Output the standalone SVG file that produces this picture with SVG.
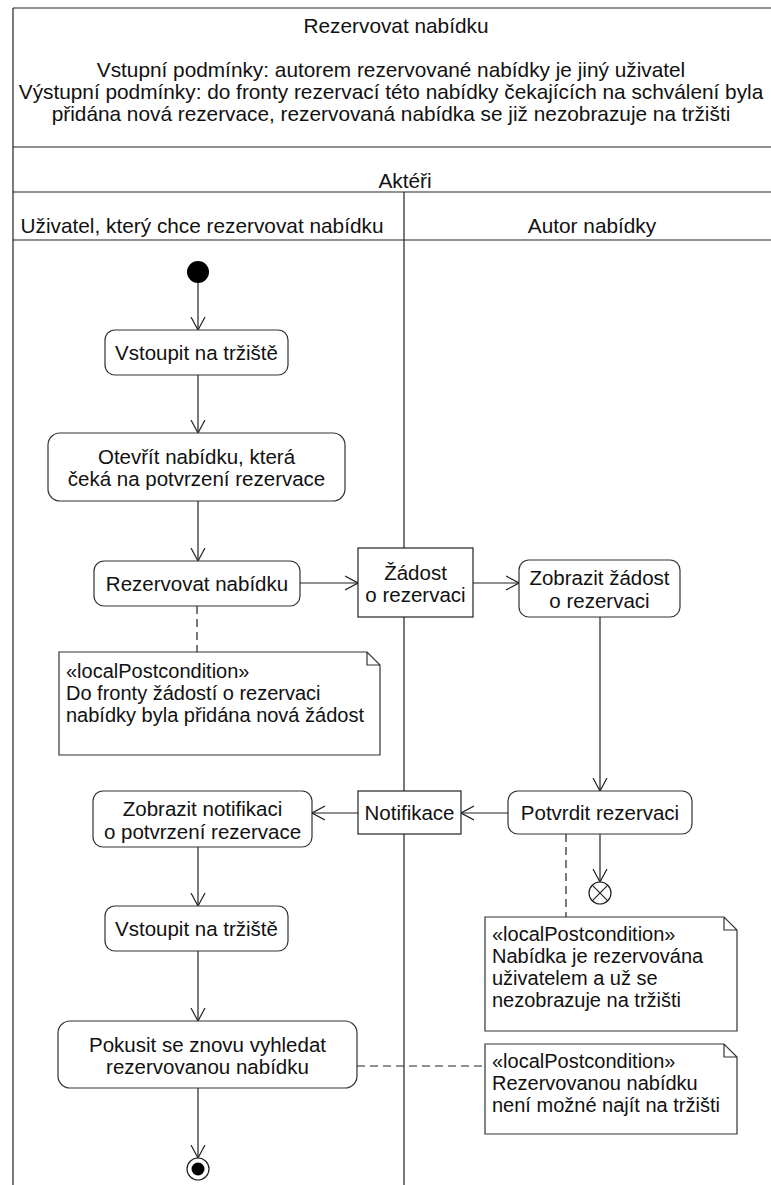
<svg xmlns="http://www.w3.org/2000/svg" width="771" height="1185" viewBox="0 0 771 1185">
  <style>
    text { font-family: "Liberation Sans", Arial, sans-serif; fill: #111; }
    .hdr { font-size: 20.8px; text-anchor: middle; }
    .lbl { font-size: 20.5px; text-anchor: middle; }
    .nt { font-size: 20px; }
    .frame { fill: none; stroke: #222; stroke-width: 1.2; }
    .act { fill: #fff; stroke: #333; stroke-width: 1.2; }
    .obj { fill: #fff; stroke: #222; stroke-width: 1.2; }
    .note { fill: #fff; stroke: #333; stroke-width: 1.2; }
    .flow { fill: none; stroke: #222; stroke-width: 1.2; marker-end: url(#open); }
    .dash { fill: none; stroke: #222; stroke-width: 1.2; stroke-dasharray: 8 5; }
  </style>
  <defs>
    <marker id="open" viewBox="0 0 14 16" refX="13" refY="8" markerWidth="14" markerHeight="16" markerUnits="userSpaceOnUse" orient="auto">
      <path d="M0,1 L13,8 L0,15" fill="none" stroke="#222" stroke-width="1.2"/>
    </marker>
  </defs>
  <rect width="771" height="1185" fill="#fff"/>

  <!-- frame and swimlanes -->
  <g id="frame">
    <path class="frame" d="M13,8 H771 M13,8 V1185 M13,147 H771 M13,192 H771 M13,240 H771 M404,192 V1185"/>
    <text class="hdr" x="396" y="33">Rezervovat nabídku</text>
    <text class="hdr" x="391" y="77">Vstupní podmínky: autorem rezervované nabídky je jiný uživatel</text>
    <text class="hdr" x="391" y="99">Výstupní podmínky: do fronty rezervací této nabídky čekajících na schválení byla</text>
    <text class="hdr" x="391" y="121">přidána nová rezervace, rezervovaná nabídka se již nezobrazuje na tržišti</text>
    <text class="hdr" x="405" y="188">Aktéři</text>
    <text class="hdr" x="202" y="233">Uživatel, který chce rezervovat nabídku</text>
    <text class="hdr" x="592" y="233">Autor nabídky</text>
  </g>

  <!-- connectors -->
  <g id="connectors">
    <path class="flow" d="M198,283 V330"/>
    <path class="flow" d="M198,375 V433"/>
    <path class="flow" d="M198,501 V561"/>
    <path class="flow" d="M300,583 H358"/>
    <path class="flow" d="M473,583 H519"/>
    <path class="flow" d="M600,617 V791"/>
    <path class="flow" d="M508,813 H461"/>
    <path class="flow" d="M358,813 H312"/>
    <path class="flow" d="M198,847 V906"/>
    <path class="flow" d="M198,951 V1021"/>
    <path class="flow" d="M198,1088 V1158"/>
    <path class="flow" d="M600,834 V882"/>
    <path class="dash" d="M197,606 V652"/>
    <path class="dash" d="M566,834 V917"/>
    <path class="dash" d="M357,1066 H485"/>
  </g>

  <g id="start">
    <circle cx="198" cy="272" r="11" fill="#000"/>
  </g>

  <g id="vstoupit1">
    <rect class="act" x="105" y="330" width="183" height="45" rx="10"/>
    <text class="lbl" x="196.5" y="360">Vstoupit na tržiště</text>
  </g>

  <g id="otevrit">
    <rect class="act" x="48" y="433" width="297" height="68" rx="12"/>
    <text class="lbl" x="196.5" y="464">Otevřít nabídku, která</text>
    <text class="lbl" x="196.5" y="486">čeká na potvrzení rezervace</text>
  </g>

  <g id="rezervovat">
    <rect class="act" x="94" y="561" width="206" height="45" rx="10"/>
    <text class="lbl" x="197" y="591">Rezervovat nabídku</text>
  </g>

  <g id="zadost">
    <rect class="obj" x="358" y="548" width="115" height="69"/>
    <text class="lbl" x="415.5" y="580">Žádost</text>
    <text class="lbl" x="415.5" y="602">o rezervaci</text>
  </g>

  <g id="zobrazit-zadost">
    <rect class="act" x="519" y="560" width="161" height="57" rx="10"/>
    <text class="lbl" x="599.5" y="585">Zobrazit žádost</text>
    <text class="lbl" x="599.5" y="608">o rezervaci</text>
  </g>

  <g id="note-fronta">
    <path class="note" d="M59,652 H367 L380,665 V755 H59 Z M367,652 V665 H380"/>
    <text class="nt" x="66" y="678">«localPostcondition»</text>
    <text class="nt" x="66" y="700">Do fronty žádostí o rezervaci</text>
    <text class="nt" x="66" y="722">nabídky byla přidána nová žádost</text>
  </g>

  <g id="potvrdit">
    <rect class="act" x="508" y="791" width="184" height="43" rx="10"/>
    <text class="lbl" x="600" y="820">Potvrdit rezervaci</text>
  </g>

  <g id="notifikace">
    <rect class="obj" x="358" y="791" width="103" height="43"/>
    <text class="lbl" x="409.5" y="820">Notifikace</text>
  </g>

  <g id="zobrazit-notifikaci">
    <rect class="act" x="93" y="791" width="219" height="56" rx="10"/>
    <text class="lbl" x="202.5" y="816">Zobrazit notifikaci</text>
    <text class="lbl" x="202.5" y="839">o potvrzení rezervace</text>
  </g>

  <g id="flow-final">
    <circle cx="600" cy="893" r="11" fill="#fff" stroke="#222" stroke-width="1.2"/>
    <path d="M592.2,885.2 L607.8,900.8 M607.8,885.2 L592.2,900.8" stroke="#222" stroke-width="1.2"/>
  </g>

  <g id="note-nabidka">
    <path class="note" d="M485,917 H724 L737,930 V1031 H485 Z M724,917 V930 H737"/>
    <text class="nt" x="492" y="941">«localPostcondition»</text>
    <text class="nt" x="492" y="963">Nabídka je rezervována</text>
    <text class="nt" x="492" y="985">uživatelem a už se</text>
    <text class="nt" x="492" y="1007">nezobrazuje na tržišti</text>
  </g>

  <g id="vstoupit2">
    <rect class="act" x="105" y="906" width="183" height="45" rx="10"/>
    <text class="lbl" x="196.5" y="936">Vstoupit na tržiště</text>
  </g>

  <g id="pokusit">
    <rect class="act" x="58" y="1021" width="299" height="67" rx="12"/>
    <text class="lbl" x="207.5" y="1052">Pokusit se znovu vyhledat</text>
    <text class="lbl" x="207.5" y="1074">rezervovanou nabídku</text>
  </g>

  <g id="note-vyhledani">
    <path class="note" d="M485,1044 H724 L737,1057 V1134 H485 Z M724,1044 V1057 H737"/>
    <text class="nt" x="492" y="1068">«localPostcondition»</text>
    <text class="nt" x="492" y="1090">Rezervovanou nabídku</text>
    <text class="nt" x="492" y="1112">není možné najít na tržišti</text>
  </g>

  <g id="end">
    <circle cx="198" cy="1169" r="11" fill="#fff" stroke="#222" stroke-width="1.2"/>
    <circle cx="198" cy="1169" r="6.5" fill="#000"/>
  </g>
</svg>
